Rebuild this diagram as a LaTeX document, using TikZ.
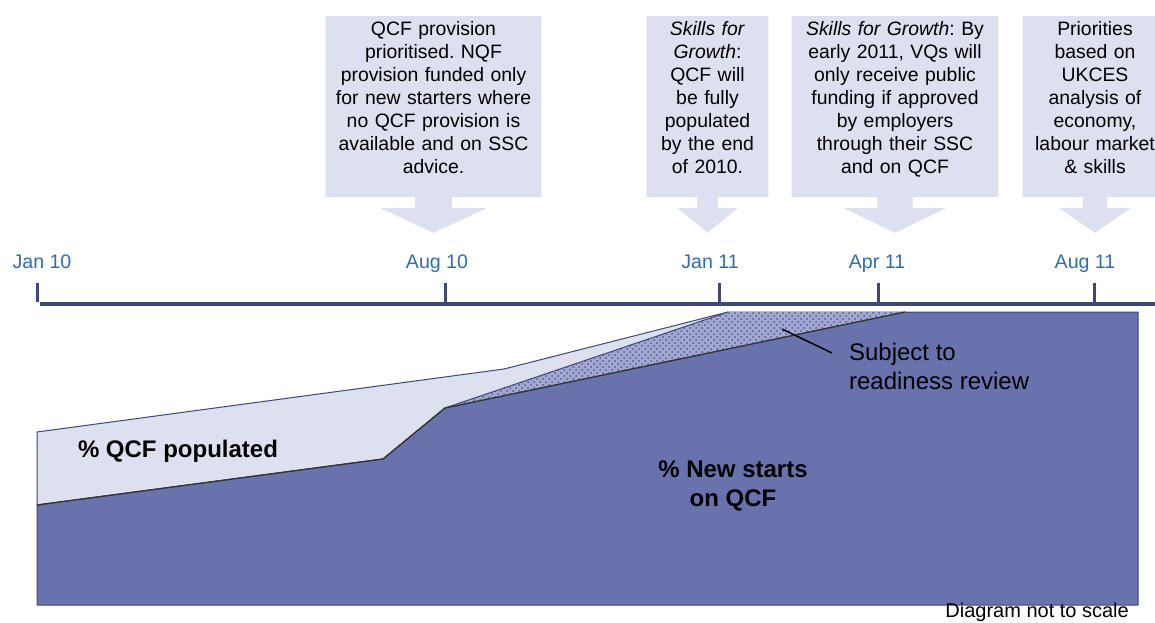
\documentclass[tikz,border=0pt]{standalone}
\usepackage{fontspec}
\setmainfont{Liberation Sans}
\usetikzlibrary{patterns,backgrounds,calc}
\frenchspacing
\definecolor{notefill}{HTML}{DDE0EE}
\definecolor{areadark}{HTML}{6872AD}
\definecolor{navy}{HTML}{3B4878}
\definecolor{datblue}{HTML}{2E6CB4}
\definecolor{hatchbase}{HTML}{A3A8D2}
\tikzset{note/.style={text width=#1, align=center, inner xsep=2pt, inner ysep=2pt, text height=7.3pt, text depth=78.7pt, anchor=north, font=\fontsize{9.7}{11.5}\selectfont}}
\tikzstyle{datelbl} = [text=datblue, anchor=base, font=\fontsize{9.8}{11.5}\selectfont]
\tikzstyle{tick} = [draw=navy, line width=1.5pt]
\tikzstyle{axisline} = [draw=navy, line width=1.8pt]
\tikzstyle{arealbl} = [align=center, font=\fontsize{12}{14}\selectfont\bfseries]
\tikzstyle{outline} = [draw=navy, line width=0.5pt, line join=round]

\begin{document}
\begin{tikzpicture}[x=0.5pt, y=-0.5pt]
\useasboundingbox (0,0) rectangle (1155,622);
\node (prio) [note=103.5pt] at (433.5,16) {QCF provision\\prioritised. NQF\\provision funded only\\for new starters where\\no QCF provision is\\available and on SSC\\advice.};
\node (skills) [note=56.5pt] at (707.5,16) {\textit{Skills for}\\\textit{Growth}:\\QCF will\\be fully\\populated\\by the end\\of 2010.};
\node (vq) [note=99pt] at (895,16) {\textit{Skills for Growth}: By\\early 2011, VQs will\\only receive public\\funding if approved\\by employers\\through their SSC\\and on QCF};
\node (ukces) [note=68pt] at (1095,16) {Priorities\\based on\\UKCES\\analysis of\\economy,\\labour market\\\& skills};

\begin{scope}[on background layer]
\foreach \n in {prio,skills,vq,ukces}
  \fill[notefill] (\n.north west) -- (\n.north east) -- (\n.south east)
    -- ($(\n.south)!0.17!(\n.south east)$) -- ($(\n.south)!0.17!(\n.south east)+(0,11)$)
    -- ($(\n.south)!0.5!(\n.south east)+(0,11)$) -- ($(\n.south)+(0,36)$)
    -- ($(\n.south)!0.5!(\n.south west)+(0,11)$) -- ($(\n.south)!0.17!(\n.south west)+(0,11)$)
    -- ($(\n.south)!0.17!(\n.south west)$) -- (\n.south west) -- cycle;
\end{scope}

\node (jan10) [datelbl] at (42,268) {Jan 10};
\node (aug10) [datelbl] at (437,268) {Aug 10};
\node (jan11) [datelbl] at (710,268) {Jan 11};
\node (apr11) [datelbl] at (877,268) {Apr 11};
\node (aug11) [datelbl] at (1085,268) {Aug 11};
\foreach \x in {37,445,719,878,1094}
  \draw[tick] (\x,283) -- (\x,302);
\draw[axisline] (40,304) -- (1160,304);

\filldraw[notefill, outline] (37,432) -- (504,369) -- (728,312) -- (905,312) -- (445,408) -- (383,459) -- (37,505) -- cycle;
\fill[hatchbase] (445,408) -- (728,312) -- (905,312) -- cycle;
\fill[pattern=crosshatch dots, pattern color=areadark!80!black] (445,408) -- (728,312) -- (905,312) -- cycle;
\draw[outline] (445,408) -- (728,312);
\filldraw[fill=areadark, outline] (37,505) -- (383,459) -- (445,408) -- (905,312) -- (1138,312) -- (1138,605) -- (37,605) -- cycle;
\draw[black!80, line width=0.6pt] (37,505) -- (383,459) -- (445,408) -- (905,312);

\node (qcfpop) [arealbl] at (178,451) {\% QCF populated};
\node (newstarts) [arealbl] at (733,486) {\% New starts\\on QCF};
\node (review) [anchor=west, align=left, font=\fontsize{12}{14.5}\selectfont] at (842,366) {Subject to\\readiness review};
\coordinate (hatchpt) at (782,329);
\coordinate (revtip) at (832,353);
\draw[black, line width=0.75pt] (hatchpt) -- (revtip);
\node (noscale) [anchor=base west, inner sep=0pt, font=\fontsize{10}{12}\selectfont] at (945,617) {Diagram not to scale};
\end{tikzpicture}
\end{document}
